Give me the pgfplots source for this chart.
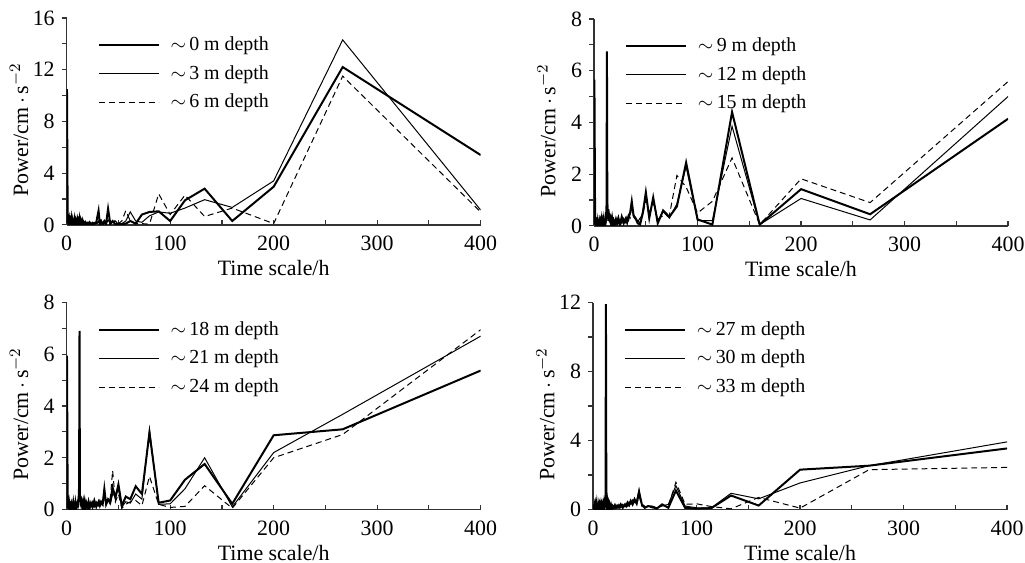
\documentclass[border=0pt]{standalone}
\usepackage{pgfplots}
\pgfplotsset{compat=1.18}
\usepackage{pgfplotstable}
\usepackage{fontspec}
\setmainfont{Liberation Serif}

% columns: x = time scale (h), a = thick, b = thin, c = dashed
\pgfplotstableread{
x a b c
0.3 10.5 0.3 0.2
1.0 0.1 0.2 0.3
1.5 0.35 0.05 0.1
2.0 0.1 0.4 0.3
2.5 0.4 0.1 0.05
3.0 0.05 0.3 0.35
3.5 0.3 0.05 0.1
4.0 0.1 0.4 0.3
4.5 0.45 0.15 0.05
5.0 0.05 0.35 0.3
5.5 0.35 0.05 0.1
6.0 0.1 0.4 0.35
6.5 0.5 0.1 0.05
7.0 0.05 0.3 0.3
7.5 0.4 0.1 0.1
8.0 0.1 0.35 0.4
8.5 0.3 0.05 0.05
9.0 0.05 0.45 0.3
9.5 0.55 0.1 0.1
10.0 0.1 0.3 0.35
10.5 0.35 0.05 0.05
11.0 0.05 0.4 0.3
11.5 0.3 0.1 0.05
12.0 0.15 0.35 0.25
12.4 0.4 0.3 0.35
12.8 0.1 0.1 0.05
13.3 0.3 0.25 0.2
13.8 0.05 0.05 0.05
14.3 0.25 0.3 0.2
14.8 0.1 0.05 0.1
15.4 0.3 0.2 0.05
16.0 0.05 0.1 0.2
16.7 0.2 0.05 0.1
17.4 0.1 0.2 0.05
18.2 0.2 0.1 0.15
19.0 0.05 0.15 0.05
20.0 0.15 0.05 0.2
21.1 0.05 0.2 0.05
22.2 0.2 0.1 0.15
23.5 0.05 0.15 0.05
25.0 0.15 0.05 0.2
26.7 0.05 0.2 0.1
28.6 0.2 0.1 0.05
30.8 1.1 0.3 0.2
32.0 0.1 0.05 0.1
33.3 0.3 0.2 0.05
34.8 0.05 0.1 0.25
36.4 0.3 0.15 0.1
38.1 0.1 0.05 0.2
40.0 1.25 0.4 0.3
42.1 0.1 0.1 0.05
44.4 0.3 0.2 0.2
47.1 0.05 0.3 0.35
50.0 0.1 0.05 0.1
53.3 0.05 0.1 0.3
57.1 0.1 0.3 1.1
61.5 0.3 1.0 0.3
66.7 0.1 0.3 0.1
72.7 0.8 0.2 0.1
80.0 1.0 0.7 0.05
88.9 1.05 1.0 2.4
100.0 0.3 0.9 0.8
114.3 1.9 1.3 2.3
133.3 2.8 1.95 0.65
160.0 0.3 1.35 1.3
200.0 2.95 3.4 0.1
266.7 12.2 14.3 11.5
400.0 5.4 1.15 1.0
}\tabA

\pgfplotstableread{
x a b c
0.3 5.65 0.2 0.1
1.0 0.05 0.1 0.2
1.5 0.2 0.05 0.05
2.0 0.05 0.2 0.15
2.5 0.15 0.05 0.1
3.0 0.05 0.15 0.2
3.5 0.2 0.1 0.05
4.0 0.05 0.2 0.15
4.5 0.25 0.05 0.1
5.0 0.05 0.15 0.2
5.5 0.2 0.1 0.05
6.0 0.1 0.25 0.15
6.5 0.2 0.05 0.1
7.0 0.05 0.2 0.2
7.5 0.25 0.1 0.05
8.0 0.1 0.2 0.15
8.5 0.2 0.05 0.1
9.0 0.05 0.25 0.2
9.5 0.25 0.1 0.05
10.0 0.1 0.2 0.15
10.5 0.3 0.05 0.2
11.0 0.1 0.2 0.1
11.5 0.3 0.1 0.25
12.0 0.8 0.5 0.4
12.4 6.75 1.4 0.9
12.8 0.7 0.6 0.5
13.3 0.3 0.7 0.2
13.8 0.65 0.2 0.4
14.3 0.2 0.5 0.6
14.8 0.5 0.15 0.2
15.4 0.15 0.45 0.3
16.0 0.4 0.1 0.15
16.7 0.1 0.3 0.25
17.4 0.3 0.05 0.1
18.2 0.05 0.25 0.2
19.0 0.2 0.1 0.05
20.0 0.05 0.2 0.15
21.1 0.25 0.05 0.2
22.2 0.1 0.3 0.05
23.5 0.3 0.1 0.25
25.0 0.05 0.25 0.1
26.7 0.35 0.1 0.3
28.6 0.1 0.3 0.05
30.8 0.3 0.1 0.25
32.0 0.15 0.3 0.1
33.3 0.4 0.2 0.35
34.8 0.5 0.45 0.3
36.4 0.95 0.9 0.85
38.1 0.4 0.45 0.35
40.0 0.3 0.3 0.25
42.1 0.1 0.2 0.15
44.4 0.05 0.1 0.3
47.1 0.5 0.6 0.45
50.0 1.3 1.2 1.0
53.3 0.3 0.35 0.4
57.1 1.1 1.05 0.9
61.5 0.1 0.2 0.25
66.7 0.6 0.55 0.4
72.7 0.35 0.3 0.4
80.0 0.75 0.85 1.95
88.9 2.45 2.3 1.5
100.0 0.25 0.2 0.5
114.3 0.05 0.2 0.95
133.3 4.4 3.85 2.63
160.0 0.05 0.05 0.05
200.0 1.42 1.06 1.82
266.7 0.45 0.23 0.9
400.0 4.14 5.0 5.58
}\tabB

\pgfplotstableread{
x a b c
0.3 5.95 0.2 0.1
1.0 0.1 0.2 0.05
1.5 0.3 0.05 0.2
2.0 0.05 0.25 0.1
2.5 0.25 0.1 0.3
3.0 0.1 0.3 0.05
3.5 0.3 0.05 0.2
4.0 0.05 0.2 0.1
4.5 0.2 0.1 0.25
5.0 0.1 0.3 0.05
5.5 0.3 0.05 0.2
6.0 0.05 0.25 0.1
6.5 0.25 0.1 0.3
7.0 0.1 0.3 0.05
7.5 0.3 0.1 0.2
8.0 0.05 0.2 0.1
8.5 0.25 0.05 0.25
9.0 0.1 0.3 0.05
9.5 0.3 0.1 0.2
10.0 0.1 0.25 0.1
10.5 0.3 0.05 0.25
11.0 0.1 0.3 0.1
11.5 0.35 0.15 0.3
12.0 0.9 0.6 0.4
12.4 6.9 1.3 0.9
12.8 0.6 0.5 0.35
13.3 0.3 0.55 0.2
13.8 0.5 0.2 0.4
14.3 0.2 0.45 0.15
14.8 0.4 0.1 0.3
15.4 0.15 0.35 0.1
16.0 0.3 0.1 0.25
16.7 0.1 0.3 0.05
17.4 0.3 0.05 0.2
18.2 0.05 0.25 0.1
19.0 0.25 0.1 0.2
20.0 0.1 0.2 0.05
21.1 0.3 0.05 0.2
22.2 0.05 0.25 0.1
23.5 0.25 0.1 0.25
25.0 0.1 0.3 0.05
26.7 0.35 0.1 0.2
28.6 0.1 0.3 0.15
30.8 0.3 0.15 0.3
32.0 0.15 0.35 0.1
33.3 0.3 0.2 0.25
34.8 0.2 0.35 0.15
36.4 0.8 0.6 0.5
38.1 0.2 0.3 0.2
40.0 0.4 0.35 0.3
42.1 0.3 0.2 0.4
44.4 0.85 0.6 1.5
47.1 0.45 0.5 0.3
50.0 0.97 0.8 0.6
53.3 0.14 0.1 0.05
57.1 0.5 0.3 0.2
61.5 0.4 0.25 0.3
66.7 0.9 0.6 0.35
72.7 0.6 0.4 0.15
80.0 2.97 3.1 1.28
88.9 0.26 0.2 0.2
100.0 0.35 0.22 0.08
114.3 1.15 0.8 0.12
133.3 1.76 2.0 0.92
160.0 0.22 0.1 0.05
200.0 2.87 2.2 2.0
266.7 3.1 3.68 2.9
400.0 5.37 6.7 6.95
}\tabC

\pgfplotstableread{
x a b c
0.3 0.3 0.2 0.1
1.0 0.05 0.2 0.1
1.5 0.25 0.05 0.15
2.0 0.05 0.3 0.05
2.5 0.3 0.1 0.2
3.0 0.1 0.25 0.05
3.5 0.35 0.05 0.2
4.0 0.05 0.2 0.1
4.5 0.2 0.1 0.25
5.0 0.1 0.3 0.05
5.5 0.3 0.05 0.2
6.0 0.05 0.25 0.1
6.5 0.25 0.1 0.3
7.0 0.1 0.3 0.05
7.5 0.3 0.05 0.2
8.0 0.05 0.25 0.1
8.5 0.25 0.1 0.25
9.0 0.1 0.3 0.05
9.5 0.3 0.1 0.2
10.0 0.1 0.25 0.1
10.5 0.35 0.05 0.25
11.0 0.1 0.3 0.1
11.5 0.4 0.15 0.3
12.0 0.6 0.4 0.3
12.4 11.9 2.45 1.0
12.8 0.5 0.4 0.3
13.3 0.2 0.5 0.2
13.8 0.45 0.15 0.35
14.3 0.15 0.4 0.1
14.8 0.35 0.1 0.25
15.4 0.1 0.3 0.1
16.0 0.3 0.1 0.2
16.7 0.1 0.25 0.05
17.4 0.25 0.05 0.2
18.2 0.05 0.2 0.1
19.0 0.2 0.1 0.15
20.0 0.1 0.2 0.05
21.1 0.25 0.05 0.2
22.2 0.1 0.25 0.1
23.5 0.2 0.1 0.25
25.0 0.1 0.3 0.1
26.7 0.3 0.1 0.2
28.6 0.1 0.3 0.15
30.8 0.3 0.15 0.3
32.0 0.2 0.35 0.15
33.3 0.4 0.2 0.3
34.8 0.25 0.45 0.2
36.4 0.5 0.3 0.45
38.1 0.3 0.55 0.25
40.0 0.6 0.4 0.5
42.1 0.35 0.5 0.3
44.4 1.0 1.17 0.8
47.1 0.3 0.2 0.2
50.0 0.1 0.15 0.1
53.3 0.2 0.2 0.15
57.1 0.15 0.2 0.1
61.5 0.05 0.1 0.1
66.7 0.3 0.2 0.25
72.7 0.1 0.3 0.2
80.0 1.1 1.38 1.58
88.9 0.1 0.2 0.3
100.0 0.05 0.1 0.33
114.3 0.08 0.1 0.17
133.3 0.81 0.94 0.04
160.0 0.23 0.62 0.7
200.0 2.31 1.54 0.08
266.7 2.54 2.54 2.31
400.0 3.54 3.92 2.44
}\tabD

\pgfplotsset{
  panel/.style={
    scale only axis, width=208pt, height=104pt,
    xmin=0, xmax=400, ymin=0,
    axis x line=bottom, axis y line=left,
    axis line style={-, line width=0.7pt, black!80},
    xtick={0,100,...,400}, minor xtick={50,150,...,350},
    xtick align=inside, ytick align=outside,
    major tick length=2.5pt, minor tick length=2.5pt,
    every tick/.style={line width=0.6pt, black!80},
    every minor tick/.style={line width=0.6pt, black!80},
    font=\fontsize{11}{13}\selectfont,
    /pgf/number format/assume math mode=true,
    xticklabel style={yshift=-2pt},
    xlabel={Time scale/h},
    ylabel={Power/cm$\,\cdot\,$s$^{-2}$},
    xlabel style={at={(axis description cs:0.5,-0.21)}, anchor=center},
    ylabel style={at={(axis description cs:-0.115,0.46)}, anchor=center},
    legend style={draw=none, fill=none, anchor=north west,
      at={(axis description cs:0.06,0.95)},
      font=\fontsize{10}{12}\selectfont, row sep=2pt},
    legend cell align=left,
    legend image code/.code={\draw[##1] (0pt,0pt) -- (30pt,0pt); \path (33.5pt,0pt);},
  },
  sA/.style={black, line width=1pt},
  sB/.style={black, line width=0.5pt},
  sC/.style={black, line width=0.5pt, dash pattern=on 3pt off 2pt},
}

\begin{document}
\begin{tikzpicture}
\path[use as bounding box] (0,0) rectangle (515pt,-282.5pt);

\begin{axis}[panel, at={(33.5pt,-113pt)}, anchor=south west,
  ymax=16, ytick={0,4,...,16}, minor ytick={2,6,10,14}]
  \addplot[sA] table[x=x, y=a] {\tabA};
  \addplot[sB] table[x=x, y=b] {\tabA};
  \addplot[sC] table[x=x, y=c] {\tabA};
  \legend{$\sim$\,0 m depth, $\sim$\,3 m depth, $\sim$\,6 m depth}
\end{axis}

\begin{axis}[panel, at={(298.5pt,-113.5pt)}, anchor=south west,
  ymax=8, ytick={0,2,...,8}, minor ytick={1,3,5,7}]
  \addplot[sA] table[x=x, y=a] {\tabB};
  \addplot[sB] table[x=x, y=b] {\tabB};
  \addplot[sC] table[x=x, y=c] {\tabB};
  \legend{$\sim$\,9 m depth, $\sim$\,12 m depth, $\sim$\,15 m depth}
\end{axis}

\begin{axis}[panel, at={(33.5pt,-256pt)}, anchor=south west,
  ymax=8, ytick={0,2,...,8}, minor ytick={1,3,5,7}]
  \addplot[sA] table[x=x, y=a] {\tabC};
  \addplot[sB] table[x=x, y=b] {\tabC};
  \addplot[sC] table[x=x, y=c] {\tabC};
  \legend{$\sim$\,18 m depth, $\sim$\,21 m depth, $\sim$\,24 m depth}
\end{axis}

\begin{axis}[panel, at={(298pt,-256pt)}, anchor=south west,
  ymax=12, ytick={0,4,8,12}, minor ytick={2,6,10}]
  \addplot[sA] table[x=x, y=a] {\tabD};
  \addplot[sB] table[x=x, y=b] {\tabD};
  \addplot[sC] table[x=x, y=c] {\tabD};
  \legend{$\sim$\,27 m depth, $\sim$\,30 m depth, $\sim$\,33 m depth}
\end{axis}
\end{tikzpicture}
\end{document}
